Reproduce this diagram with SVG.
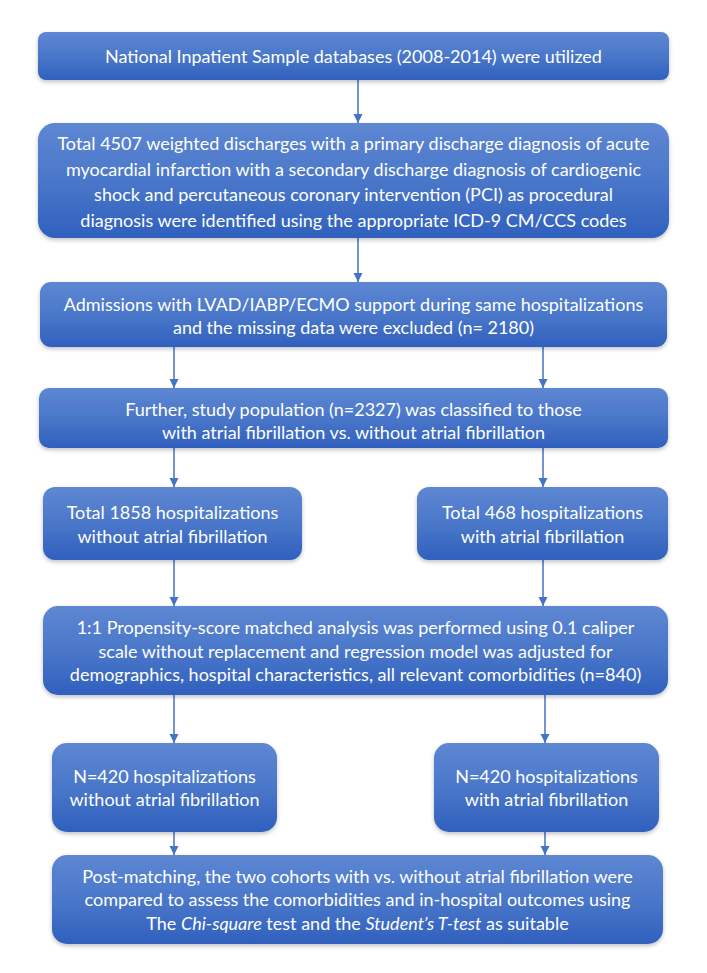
<svg xmlns="http://www.w3.org/2000/svg" width="707" height="973" viewBox="0 0 707 973">
<defs>
<linearGradient id="g" x1="0" y1="0" x2="0" y2="1">
<stop offset="0" stop-color="#5E87D3"/>
<stop offset="0.5" stop-color="#4a77c9"/>
<stop offset="1" stop-color="#3060BE"/>
</linearGradient>
<filter id="sh" x="-5%" y="-10%" width="110%" height="130%">
<feGaussianBlur in="SourceAlpha" stdDeviation="2"/>
<feOffset dy="2" result="b"/>
<feComponentTransfer><feFuncA type="linear" slope="0.25"/></feComponentTransfer>
<feMerge><feMergeNode/><feMergeNode in="SourceGraphic"/></feMerge>
</filter>
<marker id="ah" markerWidth="10" markerHeight="10" refX="9" refY="4.5" orient="auto" markerUnits="userSpaceOnUse">
<path d="M0,0 L9,4.5 L0,9 z" fill="#4472C4"/>
</marker>
</defs>
<style>
.box{fill:url(#g);filter:url(#sh)}
.t{font-family:Lato,"Liberation Sans",sans-serif;font-size:18px;fill:#fff;text-anchor:middle}
.c{stroke:#4472C4;stroke-width:1.5;fill:none;marker-end:url(#ah)}
</style>
<rect width="707" height="973" fill="#fff"/>
<g id="connectors">
<line class="c" x1="358" y1="80" x2="358" y2="123"/>
<line class="c" x1="358" y1="238" x2="358" y2="282"/>
<line class="c" x1="174" y1="347" x2="174" y2="388"/>
<line class="c" x1="543" y1="347" x2="543" y2="388"/>
<line class="c" x1="174" y1="448" x2="174" y2="487"/>
<line class="c" x1="543" y1="448" x2="543" y2="487"/>
<line class="c" x1="174" y1="560" x2="174" y2="606"/>
<line class="c" x1="543" y1="560" x2="543" y2="606"/>
<line class="c" x1="174" y1="695" x2="174" y2="743"/>
<line class="c" x1="545" y1="695" x2="545" y2="743"/>
<line class="c" x1="174" y1="832" x2="174" y2="855"/>
<line class="c" x1="545" y1="832" x2="545" y2="855"/>
</g>
<g id="n1">
<rect class="box" x="38" y="32" width="631" height="48" rx="8"/>
<text class="t" x="353.5" y="63">National Inpatient Sample databases (2008-2014) were utilized</text>
</g>
<g id="n2">
<rect class="box" x="38" y="123" width="631" height="115" rx="17"/>
<text class="t" x="353.5" y="150">Total 4507 weighted discharges with a primary discharge diagnosis of acute</text>
<text class="t" x="353.5" y="176">myocardial infarction with a secondary discharge diagnosis of cardiogenic</text>
<text class="t" x="353.5" y="201">shock and percutaneous coronary intervention (PCI) as procedural</text>
<text class="t" x="353.5" y="227">diagnosis were identified using the appropriate ICD-9 CM/CCS codes</text>
</g>
<g id="n3">
<rect class="box" x="40" y="282" width="627" height="65" rx="11"/>
<text class="t" x="353.5" y="311">Admissions with LVAD/IABP/ECMO support during same hospitalizations</text>
<text class="t" x="353.5" y="334">and the missing data were excluded (n= 2180)</text>
</g>
<g id="n4">
<rect class="box" x="39" y="388" width="629" height="60" rx="10"/>
<text class="t" x="353.5" y="416">Further, study population (n=2327) was classified to those</text>
<text class="t" x="353.5" y="439">with atrial fibrillation vs. without atrial fibrillation</text>
</g>
<g id="n5a">
<rect class="box" x="43" y="487" width="259" height="73" rx="12"/>
<text class="t" x="172.5" y="519">Total 1858 hospitalizations</text>
<text class="t" x="172.5" y="543">without atrial fibrillation</text>
</g>
<g id="n5b">
<rect class="box" x="417" y="487" width="251" height="73" rx="12"/>
<text class="t" x="542.5" y="519">Total 468 hospitalizations</text>
<text class="t" x="542.5" y="543">with atrial fibrillation</text>
</g>
<g id="n6">
<rect class="box" x="43" y="606" width="625" height="89" rx="15"/>
<text class="t" x="355.5" y="634">1:1 Propensity-score matched analysis was performed using 0.1 caliper</text>
<text class="t" x="355.5" y="658">scale without replacement and regression model was adjusted for</text>
<text class="t" x="355.5" y="681">demographics, hospital characteristics, all relevant comorbidities (n=840)</text>
</g>
<g id="n7a">
<rect class="box" x="52" y="743" width="225" height="89" rx="15"/>
<text class="t" x="164.5" y="783">N=420 hospitalizations</text>
<text class="t" x="164.5" y="806">without atrial fibrillation</text>
</g>
<g id="n7b">
<rect class="box" x="434" y="743" width="225" height="89" rx="15"/>
<text class="t" x="546.5" y="783">N=420 hospitalizations</text>
<text class="t" x="546.5" y="806">with atrial fibrillation</text>
</g>
<g id="n8">
<rect class="box" x="52" y="855" width="611" height="89" rx="15"/>
<text class="t" x="357.5" y="883">Post-matching, the two cohorts with vs. without atrial fibrillation were</text>
<text class="t" x="357.5" y="906">compared to assess the comorbidities and in-hospital outcomes using</text>
<text class="t" x="357.5" y="930">The <tspan font-style="italic">Chi-square</tspan> test and the <tspan font-style="italic">Student’s T-test</tspan> as suitable</text>
</g>
</svg>
